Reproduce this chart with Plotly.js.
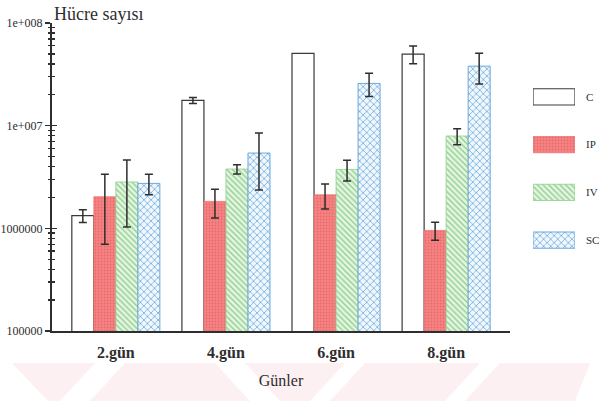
<!DOCTYPE html>
<html>
<head>
<meta charset="utf-8">
<script src="https://cdn.plot.ly/plotly-3.0.1.min.js"></script>
<style>html,body{margin:0;padding:0;background:#fff;}#chart{width:606px;height:401px;}</style>
</head>
<body>
<div id="chart"></div>
<script>
const categories = ["2.gün", "4.gün", "6.gün", "8.gün"];
const seriesNames = ["C", "IP", "IV", "SC"];
const valC  = [1.33e6, 1.76e7, 5.06e7, 4.98e7];
const errC  = [0.19e6, 0.12e7, null, 0.98e7];
const valIP = [2.03e6, 1.83e6, 2.12e6, 0.955e6];
const errIP = [1.33e6, 0.57e6, 0.58e6, 0.19e6];
const valIV = [2.83e6, 3.78e6, 3.75e6, 7.93e6];
const errIV = [1.8e6, 0.39e6, 0.86e6, 1.4e6];
const valSC = [2.74e6, 5.41e6, 2.58e7, 3.80e7];
const errSC = [0.62e6, 3.05e6, 0.66e7, 1.26e7];
const yTickVals = [1e5, 1e6, 1e7, 1e8];
const yTickText = ["100000", "1000000", "1e+007", "1e+008"];
const yTitle = "Hücre sayısı";
const xTitle = "Günler";

const values = [valC, valIP, valIV, valSC];
const errors = [errC, errIP, errIV, errSC];

// minor tick positions of the log axis (2..9 within each decade)
const yMinorVals = [];
for (let e = 5; e < 8; e++) for (let k = 2; k <= 9; k++) yMinorVals.push(k * Math.pow(10, e));

const SERIF = "Liberation Serif, Times New Roman, serif";
const INK = "#2e2e2e";
const markers = [
  {color: "#ffffff", line: {color: "#3a3a3a", width: 1.2}},
  {color: "#f47f7f", line: {color: "#f07575", width: 0.8},
   pattern: {shape: ".", bgcolor: "#f58484", fgcolor: "#ea6a6a", size: 3, solidity: 0.3}},
  {color: "#e3f4df", line: {color: "#8ccf8c", width: 0.8},
   pattern: {shape: "\\", bgcolor: "#e6f5e2", fgcolor: "#8fd08f", size: 4, solidity: 0.35}},
  {color: "#eef5fb", line: {color: "#5f9fd8", width: 0.9},
   pattern: {shape: "x", bgcolor: "#f0f7fd", fgcolor: "#6aa8dc", size: 5, solidity: 0.28}}
];

const traces = [];
seriesNames.forEach((name, i) => {
  traces.push({
    type: "bar", name: name, x: categories, y: values[i],
    marker: markers[i],
    error_y: {type: "data", array: errors[i].map(v => v === null ? NaN : v), visible: true,
              color: INK, thickness: 1.5, width: 4},
    showlegend: false, hoverinfo: "x+y"
  });
});
// legend swatches drawn as bars in a small side subplot
seriesNames.forEach((name, i) => {
  traces.push({
    type: "bar", orientation: "h", x: [1], y: [name], width: 0.34,
    xaxis: "x2", yaxis: "y2", marker: markers[i], showlegend: false, hoverinfo: "skip"
  });
});
// overlay axes used only to draw crossing major / minor ticks
["y3", "y4", "y5"].forEach(ax => traces.push({type: "scatter", x: [], y: [], yaxis: ax, showlegend: false, hoverinfo: "skip"}));

const L = 52, T = 23, W = 554, H = 308;
const px = x => (x - L) / W;
const py = y => (T + H - y) / H;

const shapes = [];
// faint watermark band at the bottom
shapes.push({type: "rect", xref: "paper", yref: "paper", x0: px(0), x1: px(606), y0: py(401), y1: py(363),
             fillcolor: "#fdf0f2", line: {width: 0}, layer: "below"});
const white = [
  [[0,363],[12,363],[48,401],[0,401]],
  [[95,363],[125,363],[90,401],[60,401]],
  [[215,363],[245,363],[280,401],[250,401]],
  [[345,363],[365,363],[330,401],[310,401]],
  [[480,363],[500,363],[465,401],[445,401]],
  [[590,363],[606,363],[606,401],[575,401]]
];
white.forEach(poly => {
  const d = poly.map((p, k) => (k ? "L" : "M") + px(p[0]) + "," + py(p[1])).join(" ") + " Z";
  shapes.push({type: "path", xref: "paper", yref: "paper", path: d, fillcolor: "#ffffff",
               line: {width: 0}, layer: "below"});
});

const tickAxis = (vals, dir, len) => ({
  type: "log", range: [5, 8], overlaying: "y", anchor: "x", side: "left",
  showline: false, showgrid: false, zeroline: false, showticklabels: false,
  tickmode: "array", tickvals: vals,
  ticks: dir, ticklen: len, tickwidth: 1.3, tickcolor: INK
});

const layout = {
  width: 606, height: 401,
  margin: {l: L, r: 0, t: T, b: 401 - T - H, pad: 0},
  paper_bgcolor: "#ffffff", plot_bgcolor: "rgba(0,0,0,0)",
  barmode: "group", bargap: 0.2, bargroupgap: 0,
  font: {family: SERIF, color: INK},
  showlegend: false,
  xaxis: {
    domain: [0, px(510)], range: [-0.58, 3.58], type: "category",
    showline: true, linecolor: INK, linewidth: 2, ticks: "", showgrid: false, zeroline: false,
    tickfont: {family: SERIF, size: 16, color: INK, weight: "bold"},
    ticklabelstandoff: 6,
    title: {text: xTitle, font: {family: SERIF, size: 16, color: INK}, standoff: 14}
  },
  yaxis: {
    type: "log", range: [5, 8], domain: [0, 1],
    showline: true, linecolor: INK, linewidth: 2, showgrid: false, zeroline: false,
    tickmode: "array", tickvals: yTickVals, ticktext: yTickText,
    ticks: "outside", ticklen: 5, tickwidth: 1.3, tickcolor: INK,
    tickfont: {family: SERIF, size: 12, color: INK}
  },
  yaxis3: tickAxis(yTickVals, "inside", 5),
  yaxis4: tickAxis(yMinorVals, "outside", 3),
  yaxis5: tickAxis(yMinorVals, "inside", 3),
  xaxis2: {domain: [px(533), px(575)], range: [0, 1], anchor: "y2", visible: false, fixedrange: true},
  yaxis2: {
    domain: [py(264), py(73)], anchor: "x2", side: "right", type: "category",
    categoryorder: "array", categoryarray: seriesNames, range: [3.5, -0.5],
    showline: false, showgrid: false, zeroline: false, ticks: "",
    ticklabelstandoff: 10,
    tickfont: {family: SERIF, size: 11, color: INK}
  },
  annotations: [{
    text: yTitle, xref: "paper", yref: "paper", x: px(52), y: py(26),
    xanchor: "left", yanchor: "bottom", showarrow: false,
    font: {family: SERIF, size: 18, color: INK}
  }],
  shapes: shapes
};

Plotly.newPlot("chart", traces, layout, {displayModeBar: false, staticPlot: true});
</script>
</body>
</html>
